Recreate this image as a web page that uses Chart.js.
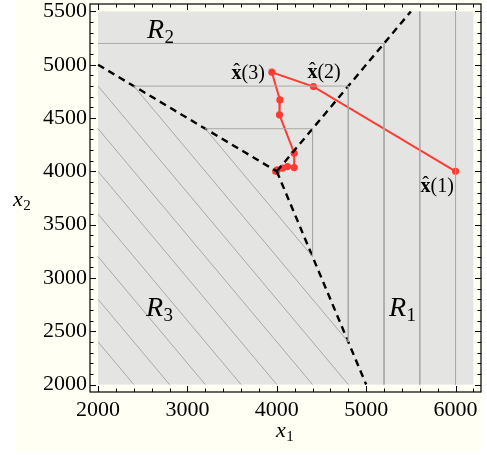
<!DOCTYPE html>
<html><head><meta charset="utf-8">
<script src="https://cdn.jsdelivr.net/npm/chart.js@4/dist/chart.umd.min.js"></script>
<style>html,body{margin:0;padding:0;background:#fff;}#wrap{position:relative;width:487px;height:456px;}</style>
</head><body><div id="wrap"><canvas id="c" width="487" height="456"></canvas></div>
<script>
// ---- data ----
const xTickValues = [2000, 3000, 4000, 5000, 6000];
const yTickValues = [2000, 2500, 3000, 3500, 4000, 4500, 5000, 5500];
const regionX = [2000, 6200];
const regionY = [2000, 5500];
const boundaryUpperLeftX1 = [2000, 4000], boundaryUpperLeftX2 = [5000, 4000];
const boundaryUpperRightX1 = [4000, 5500], boundaryUpperRightX2 = [4000, 5500];
const boundaryLowerX1 = [4000, 5000], boundaryLowerX2 = [4000, 2000];
const horizontalLevels = [4400, 4800, 5200];
const verticalLevels = [4400, 4800, 5200, 5600, 6000];
const diagonalSums = [4400, 4800, 5200, 5600, 6000, 6400, 6800, 7200, 7600];
const pathX1 = [6000, 4410, 3945, 4035, 4030, 4195, 4195, 4120, 4065, 4005, 3988, 3998];
const pathX2 = [4000, 4795, 4930, 4670, 4530, 4170, 4035, 4045, 4030, 4014, 4000, 4003];
const pathLabelIdx = [0, 1, 2];
const pathLabelText = ['(1)', '(2)', '(3)'];
const regionNames = ['1', '2', '3'];

// ---- helpers (boundary geometry from the arrays above) ----
function seg(xs, ys) { const b = (ys[1]-ys[0])/(xs[1]-xs[0]); return {b, a: ys[0]-b*xs[0]}; }
const UL = seg(boundaryUpperLeftX1, boundaryUpperLeftX2);
const UR = seg(boundaryUpperRightX1, boundaryUpperRightX2);
const LO = seg(boundaryLowerX1, boundaryLowerX2);
const yAt = (s, x) => s.a + s.b*x;
const xAt = (s, y) => (y - s.a)/s.b;
const contourColor = '#a9a9a9';
const datasets = [];
function addLine(pts, opts) {
  datasets.push(Object.assign({data: pts, showLine: true, pointRadius: 0, borderWidth: 1, borderColor: contourColor, tension: 0, fill: false}, opts||{}));
}
horizontalLevels.forEach(L => {
  addLine([{x: Math.max(regionX[0], xAt(UL, L)), y: L}, {x: xAt(UR, L), y: L}]);
});
verticalLevels.forEach(L => {
  addLine([{x: L, y: Math.min(regionY[1], yAt(UR, L))}, {x: L, y: Math.max(regionY[0], yAt(LO, L))}]);
});
diagonalSums.forEach(S => {
  const xs = Math.max(regionX[0], (S - UL.a)/(1 + UL.b));
  const xe = Math.min(S - regionY[0], (S - LO.a)/(1 + LO.b));
  addLine([{x: xs, y: S - xs}, {x: xe, y: S - xe}]);
});
const dashed = {borderColor: '#000', borderWidth: 2.4, borderDash: [7, 5]};
addLine(boundaryUpperLeftX1.map((v,i)=>({x:v, y:boundaryUpperLeftX2[i]})), dashed);
addLine(boundaryUpperRightX1.map((v,i)=>({x:v, y:boundaryUpperRightX2[i]})), dashed);
addLine(boundaryLowerX1.map((v,i)=>({x:v, y:boundaryLowerX2[i]})), dashed);
const red = '#ff3b33';
datasets.push({data: pathX1.map((v,i)=>({x:v, y:pathX2[i]})), showLine: true, borderColor: red, borderWidth: 2,
  pointRadius: 3.6, pointBackgroundColor: red, pointBorderColor: red, pointBorderWidth: 0, tension: 0});

const SERIF = '"Liberation Serif", "Times New Roman", serif';

const bgPlugin = {
  id: 'bg',
  beforeDraw(chart) {
    const c = chart.ctx;
    c.save();
    c.fillStyle = '#ffffff'; c.fillRect(0, 0, chart.width, chart.height);
    c.fillStyle = '#fffff3'; c.fillRect(15, 0, 467, 452);
    c.restore();
  },
  beforeDatasetsDraw(chart) {
    const c = chart.ctx, xs = chart.scales.x, ys = chart.scales.y;
    const x0 = xs.getPixelForValue(regionX[0]), x1 = xs.getPixelForValue(regionX[1]);
    const y0 = ys.getPixelForValue(regionY[1]), y1 = ys.getPixelForValue(regionY[0]);
    c.save(); c.fillStyle = '#e4e4e2'; c.fillRect(x0, y0, x1-x0, y1-y0); c.restore();
  },
  afterDraw(chart) {
    const c = chart.ctx, xs = chart.scales.x, ys = chart.scales.y, a = chart.chartArea;
    c.save();
    // frame
    c.strokeStyle = '#000'; c.lineWidth = 1.2;
    c.strokeRect(a.left, a.top, a.right - a.left, a.bottom - a.top);
    c.lineWidth = 1;
    c.beginPath();
    for (let v = regionX[0]; v <= regionX[1]; v += 200) {
      const p = Math.round(xs.getPixelForValue(v)) + 0.5;
      const len = xTickValues.includes(v) ? 6 : 3.5;
      c.moveTo(p, a.bottom); c.lineTo(p, a.bottom - len);
      c.moveTo(p, a.top); c.lineTo(p, a.top + len);
    }
    for (let v = regionY[0]; v <= regionY[1]; v += 100) {
      const p = Math.round(ys.getPixelForValue(v)) + 0.5;
      const len = yTickValues.includes(v) ? 6 : 3.5;
      c.moveTo(a.left, p); c.lineTo(a.left + len, p);
      c.moveTo(a.right, p); c.lineTo(a.right - len, p);
    }
    c.stroke();
    // text helpers
    c.fillStyle = '#000'; c.textBaseline = 'alphabetic'; c.textAlign = 'left';
    function sub(x, y, main, mf, s, sf, dy) {
      c.font = mf; c.fillText(main, x, y);
      const w = c.measureText(main).width;
      c.font = sf; c.fillText(s, x + w + 0.5, y + dy);
      return w + c.measureText(s).width;
    }
    // region labels
    const rFont = 'italic 28px ' + SERIF, rsFont = '19px ' + SERIF;
    sub(147, 38, 'R', rFont, regionNames[1], rsFont, 5);
    sub(389, 316, 'R', rFont, regionNames[0], rsFont, 5);
    sub(146, 316, 'R', rFont, regionNames[2], rsFont, 5);
    // axis titles
    const tFont = 'italic 22px ' + SERIF, tsFont = '15px ' + SERIF;
    sub(276, 437, 'x', tFont, '1', tsFont, 4);
    sub(13, 206, 'x', tFont, '2', tsFont, 4);
    // path labels
    const xf = 'bold 20px ' + SERIF, pf = '20px ' + SERIF;
    function xhat(idx, txt, dx, dy, alignRight) {
      const px = xs.getPixelForValue(pathX1[idx]), py = ys.getPixelForValue(pathX2[idx]);
      c.font = xf; const w1 = c.measureText('x').width;
      c.font = pf; const w2 = c.measureText(txt).width;
      let x = px + dx; const y = py + dy;
      if (alignRight) x -= (w1 + w2);
      c.font = xf; c.fillText('x', x, y);
      c.font = pf; c.fillText('\u02C6', x + w1/2 - c.measureText('\u02C6').width/2, y - 1);
      c.fillText(txt, x + w1, y);
    }
    xhat(pathLabelIdx[0], pathLabelText[0], -35, 21, false);
    xhat(pathLabelIdx[1], pathLabelText[1], -6, -9, false);
    xhat(pathLabelIdx[2], pathLabelText[2], -7, 7, true);
    c.restore();
  }
};

const tickFont = {family: SERIF, size: 22};
const noPad = s => { s.paddingTop = 0; s.paddingBottom = 0; s.paddingLeft = 0; s.paddingRight = 0; };
new Chart(document.getElementById('c'), {
  type: 'scatter',
  data: {datasets},
  options: {
    responsive: false, animation: false, events: [],
    layout: {padding: {left: 0, right: 6, top: 2, bottom: 0}},
    plugins: {legend: {display: false}, tooltip: {enabled: false}},
    scales: {
      x: {type: 'linear', min: 1910, max: 6285, border: {display: false},
        grid: {display: false, drawTicks: false},
        ticks: {font: tickFont, color: '#000', padding: 5, maxRotation: 0, autoSkip: false, callback: v => String(v)},
        afterBuildTicks: s => { s.ticks = xTickValues.map(v => ({value: v})); },
        afterFit: s => { s.height = 64; noPad(s); }},
      y: {type: 'linear', min: 1930, max: 5570, border: {display: false},
        grid: {display: false, drawTicks: false},
        ticks: {font: tickFont, color: '#000', padding: 3, autoSkip: false, callback: v => String(v)},
        afterBuildTicks: s => { s.ticks = yTickValues.map(v => ({value: v})); },
        afterFit: s => { s.width = 90; noPad(s); }}
    }
  },
  plugins: [bgPlugin]
});
</script></body></html>
